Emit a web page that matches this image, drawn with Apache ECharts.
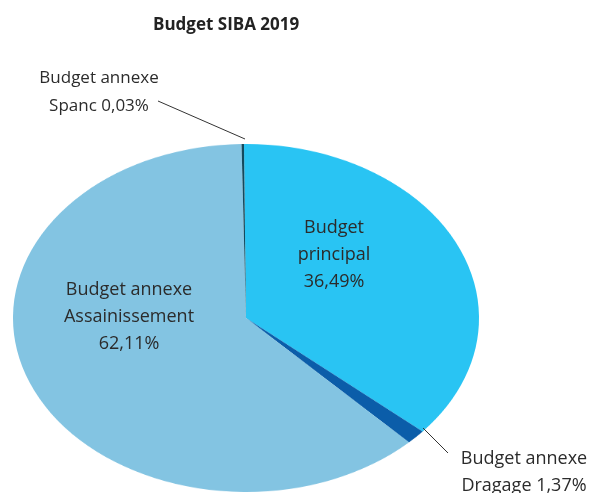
<!DOCTYPE html>
<html><head><meta charset="utf-8">
<script src="https://cdn.jsdelivr.net/npm/echarts@6/dist/echarts.min.js"></script>
<style>
html,body{margin:0;padding:0;background:#fff;width:594px;height:493px;overflow:hidden;position:relative}
#pie{position:absolute;left:0;top:0;width:594px;height:594px;transform-origin:246px 297px;transform:translateY(21px) scaleY(0.7468)}
#labels{position:absolute;left:0;top:0;width:594px;height:493px}
</style></head>
<body><div id="pie"></div><div id="labels"></div>
<script>
const title = 'Budget SIBA 2019';
const categories = ['Budget principal', 'Budget annexe Dragage', 'Budget annexe Assainissement', 'Budget annexe Spanc'];
const labelLines = [['Budget', 'principal'], ['Budget annexe', 'Dragage'], ['Budget annexe', 'Assainissement'], ['Budget annexe', 'Spanc']];
const values = [36.49, 1.37, 62.11, 0.03];
const colors = ['#29C4F3', '#0B5DA9', '#83C4E2', '#134A5E'];

const fmt = v => v.toFixed(2).replace('.', ',') + '%';
const FONT = '"Open Sans", sans-serif';

const pie = echarts.init(document.getElementById('pie'));
pie.setOption({
  animation: false,
  series: [{
    type: 'pie',
    center: [246, 297],
    radius: 233,
    startAngle: 90.5,
    clockwise: true,
    minAngle: 0.6,
    silent: true,
    label: { show: false },
    labelLine: { show: false },
    itemStyle: { borderWidth: 0 },
    data: categories.map((c, i) => ({ name: c, value: values[i], itemStyle: { color: colors[i] } }))
  }]
});

// Label texts built from the arrays
const txt = i => {
  const l = labelLines[i];
  if (i === 0 || i === 2) return l[0] + '\n' + l[1] + '\n' + fmt(values[i]);
  return l[0] + '\n' + l[1] + ' ' + fmt(values[i]);
};
const textStyle = (size, lh) => ({ fill: '#2b2b2b', font: size + 'px ' + FONT, textAlign: 'center', textVerticalAlign: 'top', lineHeight: lh });

const lab = echarts.init(document.getElementById('labels'));
lab.setOption({
  animation: false,
  title: { text: title, left: 148, top: 12, textStyle: { fontFamily: FONT, fontWeight: 'bold', fontSize: 17, color: '#222' } },
  graphic: [
    { type: 'text', x: 334, y: 214, style: Object.assign({ text: txt(0) }, textStyle(18, 27)) },
    { type: 'text', x: 129, y: 276, style: Object.assign({ text: txt(2) }, textStyle(18, 27)) },
    { type: 'text', x: 99, y: 64, style: Object.assign({ text: txt(3) }, textStyle(17, 28)) },
    { type: 'text', x: 524, y: 445, style: Object.assign({ text: txt(1) }, textStyle(18, 27)) },
    { type: 'line', shape: { x1: 158, y1: 101, x2: 245, y2: 139 }, style: { stroke: '#333', lineWidth: 1 } },
    { type: 'line', shape: { x1: 423, y1: 428, x2: 448, y2: 453 }, style: { stroke: '#333', lineWidth: 1 } }
  ]
});
</script>
</body></html>
